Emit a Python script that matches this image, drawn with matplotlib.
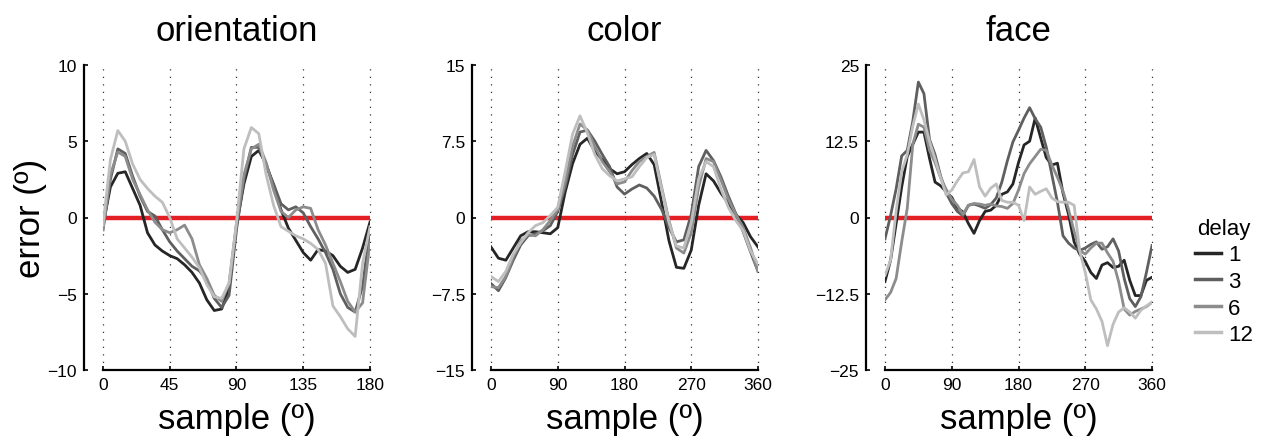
import numpy as np
import matplotlib
matplotlib.use('Agg')
import matplotlib.pyplot as plt

plt.rcParams['font.family'] = ['Liberation Sans', 'DejaVu Sans']

delays = ['1', '3', '6', '12']
delay_colors = ['#262626', '#5f5f5f', '#8c8c8c', '#bebebe']

# orientation, sampled every 5 deg
ori_x = np.arange(0, 181, 5)
ori_1 = [-0.5, 2.0, 2.9, 3.0, 1.9, 0.8, -1.0, -1.8, -2.2, -2.5, -2.7, -3.1, -3.6,
         -4.3, -5.4, -6.1, -6.0, -4.6, -0.5, 2.2, 4.0, 4.4, 3.5, 2.1, 0.5, -0.7,
         -1.5, -2.3, -2.8, -2.1, -2.2, -2.5, -3.2, -3.6, -3.4, -2.0, -0.3]
ori_3 = [-0.8, 2.5, 4.5, 4.2, 2.7, 1.4, 0.4, 0.1, -0.8, -1.6, -2.2, -2.7, -3.2,
         -3.5, -4.1, -5.3, -5.9, -5.1, -0.8, 2.5, 4.6, 4.6, 3.4, 2.2, 0.9, 0.5,
         0.7, 0.3, -0.6, -1.4, -2.3, -3.4, -5.0, -5.9, -6.2, -4.5, -0.8]
ori_6 = [-0.8, 2.8, 4.3, 4.0, 2.5, 1.5, 0.5, -0.3, -0.8, -1.0, -0.8, -0.5, -1.4,
         -3.1, -4.0, -5.1, -5.5, -4.3, -0.4, 2.8, 4.5, 4.8, 3.6, 1.8, 0.4, 0.0,
         0.5, 0.7, 0.6, -0.8, -1.8, -3.0, -4.2, -5.5, -6.2, -5.6, -1.6]
ori_12 = [-0.5, 3.8, 5.7, 5.0, 3.5, 2.5, 1.9, 1.4, 1.0, 0.0, -1.4, -2.0, -2.6,
          -3.3, -4.4, -5.2, -5.3, -4.3, -0.3, 4.5, 5.9, 5.5, 2.8, 0.8, -0.6, -0.9,
          -1.2, -1.4, -1.7, -2.1, -3.0, -5.8, -6.5, -7.3, -7.8, -3.0, -0.6]

# color, sampled every 10 deg
col_x = np.arange(0, 361, 10)
col_1 = [-2.9, -4.0, -4.2, -3.0, -1.8, -1.4, -1.4, -1.5, -1.6, -1.0, 2.5, 5.3, 7.2,
         7.8, 6.5, 5.7, 4.8, 4.3, 4.5, 5.2, 5.8, 6.3, 5.2, 1.5, -2.3, -4.9, -5.0,
         -3.2, 1.2, 4.3, 3.6, 2.4, 1.4, 0.3, -0.5, -1.9, -2.9]
col_3 = [-6.5, -7.2, -5.9, -4.2, -2.7, -1.8, -1.6, -1.3, -0.8, 0.6, 3.0, 6.2, 8.4,
         8.6, 7.5, 6.2, 5.0, 3.0, 2.3, 2.8, 3.2, 2.9, 2.1, 0.8, -1.0, -2.4, -2.2,
         0.3, 5.0, 6.6, 5.6, 4.0, 2.1, 0.4, -1.4, -3.4, -5.3]
col_6 = [-6.8, -6.9, -5.8, -3.9, -2.3, -1.7, -1.8, -1.2, -0.3, 0.8, 3.5, 7.0, 9.2,
         8.6, 7.0, 5.5, 4.5, 3.3, 3.5, 4.6, 5.5, 6.0, 6.4, 3.0, -0.3, -3.0, -3.5,
         -1.5, 3.0, 5.8, 5.5, 3.7, 1.8, 0.3, -1.0, -3.0, -5.3]
col_12 = [-5.8, -6.3, -5.3, -3.6, -2.5, -1.5, -0.8, -0.5, 0.2, 1.0, 4.5, 8.2, 10.0,
          8.3, 6.2, 4.8, 4.1, 3.6, 3.8, 4.0, 5.0, 5.9, 6.2, 2.8, -0.5, -2.8, -3.0,
          -0.5, 3.8, 5.5, 5.0, 2.8, 1.0, -0.3, -1.3, -3.3, -4.6]

# face, sampled every 7.5 deg
face_x = np.arange(0, 361, 7.5)
face_1 = [-10.5, -7.0, -1.0, 5.0, 10.0, 12.0, 14.0, 14.0, 9.7, 5.8, 5.2, 4.2, 3.3,
          1.6, 0.9, -1.0, -2.6, -0.5, 1.0, 1.2, 2.0, 3.8, 4.2, 5.5, 9.0, 11.9, 12.5,
          16.3, 13.0, 9.8, 8.6, 8.9, 4.0, 0.5, -4.0, -6.0, -7.2, -9.0, -10.0, -7.8,
          -7.4, -8.2, -8.0, -7.0, -10.3, -12.8, -12.8, -10.3, -9.8]
face_3 = [-3.5, 0.3, 4.7, 10.1, 11.0, 15.8, 22.2, 20.3, 12.8, 10.3, 6.8, 4.0, 2.3,
          1.0, 0.3, 2.0, 2.2, 1.9, 1.5, 2.1, 3.2, 5.8, 9.3, 12.4, 14.3, 16.3, 18.0,
          16.2, 14.8, 11.5, 7.0, 2.5, -3.0, -4.2, -5.0, -5.4, -5.0, -4.4, -4.0, -5.2,
          -4.8, -3.5, -5.5, -10.0, -13.3, -14.6, -13.0, -9.0, -4.6]
face_6 = [-13.5, -12.3, -10.0, -4.0, 1.5, 12.0, 15.3, 14.8, 11.0, 9.0, 6.5, 4.6, 3.0,
          2.0, 0.5, 2.0, 2.3, 2.2, 2.0, 2.2, 1.9, 1.8, 1.5, 2.3, 4.5, 7.2, 8.8, 10.0,
          11.2, 11.0, 8.6, 6.6, 4.3, 1.3, -2.3, -5.4, -6.0, -5.0, -4.2, -4.2, -5.8,
          -7.2, -10.5, -15.0, -16.0, -15.4, -15.0, -14.6, -13.9]
face_12 = [-9.5, -7.0, 1.0, 7.5, 10.3, 15.0, 18.6, 16.0, 12.5, 9.6, 6.5, 3.7, 4.5,
           6.0, 7.3, 7.5, 9.5, 5.0, 3.5, 4.8, 5.5, 2.8, 2.5, 2.5, 2.0, -0.5, 5.0, 3.8,
           4.3, 4.7, 3.2, 2.6, 2.5, 2.5, 2.0, -5.5, -9.0, -13.5, -15.0, -17.0, -21.0,
           -17.5, -15.5, -14.8, -15.5, -16.5, -15.2, -14.5, -13.9]

panels = [
    ('orientation', ori_x, [ori_1, ori_3, ori_6, ori_12], [0, 45, 90, 135, 180], 10),
    ('color', col_x, [col_1, col_3, col_6, col_12], [0, 90, 180, 270, 360], 15),
    ('face', face_x, [face_1, face_3, face_6, face_12], [0, 90, 180, 270, 360], 25),
]

fig = plt.figure(figsize=(12.65, 4.39), dpi=100)
lefts = [103, 491, 885]
axes = []
for (title, x, series, xticks, ymax), left in zip(panels, lefts):
    ax = fig.add_axes([left / 1265, 68 / 439, 267 / 1265, 305 / 439])
    axes.append(ax)
    for xt in xticks:
        ax.axvline(xt, color='#333333', lw=0.9, ls=(0, (1, 5)), zorder=1, clip_on=False)
    ax.axhline(0, color='#e31e24', lw=3.2, zorder=2)
    for ys, c, lab in zip(series, delay_colors, delays):
        ax.plot(x, ys, color=c, lw=2.0, label=lab, zorder=3)
    ax.set_xlim(xticks[0], xticks[-1])
    ax.set_ylim(-ymax, ymax)
    ax.set_xticks(xticks)
    yt = [-ymax, -ymax / 2, 0, ymax / 2, ymax]
    ax.set_yticks(yt)
    ax.set_yticklabels([('%g' % v).replace('-', '\u2212') for v in yt])
    ax.spines['top'].set_visible(False)
    ax.spines['right'].set_visible(False)
    # y axis sits ~19 px left of the data area
    ax.spines['left'].set_position(('outward', 13.7))
    ax.spines['left'].set_linewidth(1.6)
    ax.spines['bottom'].set_linewidth(1.6)
    ax.tick_params(direction='in', length=3, width=1.2, labelsize=12.5, pad=5)
    ax.set_title(title, fontsize=25, pad=18)
    ax.set_xlabel('sample (º)', fontsize=25, labelpad=7)
    ax.set_facecolor('none')

axes[0].set_ylabel('error (º)', fontsize=25)
axes[0].yaxis.set_label_coords(-0.21, 0.5)

leg = axes[2].legend(title='delay', loc='center left', bbox_to_anchor=(1.16, 0.29),
                     frameon=False, fontsize=16, title_fontsize=16,
                     handlelength=1.2, handletextpad=0.3, labelspacing=0.25,
                     borderpad=0, borderaxespad=0)
for h in leg.get_lines():
    h.set_linewidth(2.5)

fig.savefig('out.png', dpi=100)
